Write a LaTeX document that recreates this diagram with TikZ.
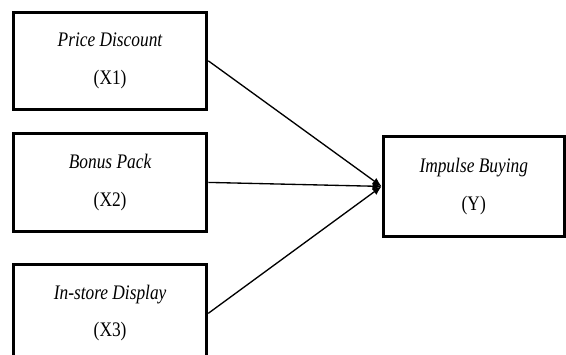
\documentclass[tikz,border=0pt]{standalone}
\usepackage{fontspec}
\setmainfont[FakeStretch=0.84]{Liberation Serif}
\usepackage{tikz}
\usetikzlibrary{arrows.meta, positioning}

\begin{document}
\begin{tikzpicture}[
  font=\fontsize{15.5}{28}\selectfont,
  align=center,
  arr/.style={-{Latex[length=2.4mm, width=2mm]}, line width=1pt},
  blk/.style={rectangle, draw=black, line width=2.2pt, fill=white,
              minimum width=145pt, minimum height=73pt, inner sep=2pt},
  dv/.style={blk, minimum width=136pt, minimum height=75pt},
]

\node[blk]                              (x1) {\textit{Price Discount}\\(X1)};
\node[blk, below=16pt of x1]            (x2) {\textit{Bonus Pack}\\(X2)};
\node[blk, below=23pt of x2]            (x3) {\textit{In-store Display}\\(X3)};
\node[dv, right=130pt of x2, yshift=-3pt] (y) {\textit{Impulse Buying}\\(Y)};

\draw[arr] (x1.east) -- (y.west);
\draw[arr] (x2.east) -- (y.west);
\draw[arr] (x3.east) -- (y.west);

\pgfresetboundingbox
\useasboundingbox ([shift={(-9pt,8pt)}]x1.north west) rectangle ++(424.5pt,-265.5pt);

\end{tikzpicture}
\end{document}
